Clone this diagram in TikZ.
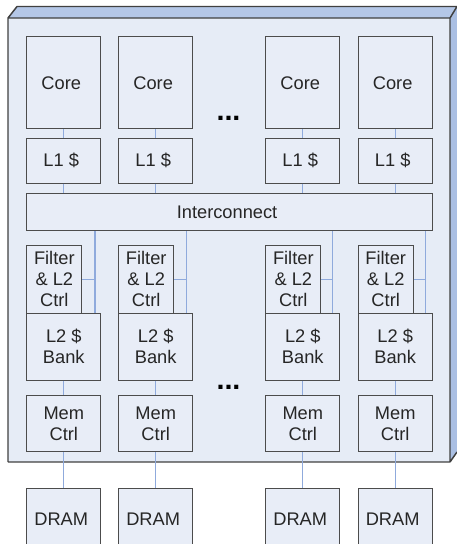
\documentclass[tikz,border=0pt]{standalone}
\usepackage{fontspec}
\setmainfont{Liberation Sans}
\definecolor{chipfront}{HTML}{E6ECF6}
\definecolor{chiptop}{HTML}{B4C7E7}
\definecolor{chipside}{HTML}{AABFE3}
\definecolor{blockfill}{HTML}{E8EDF7}
\definecolor{wireblue}{HTML}{8FAADC}
\usetikzlibrary{calc}
\tikzset{
	blocknode/.style={
			rectangle,
			draw=black!70,
			line width=0.75pt,
			fill=blockfill,
			text=black!85,
			align=center,
			inner sep=0pt,
			minimum width=55.5pt,
			font=\fontsize{13.7}{15.75}\selectfont
		},
	corenode/.style={
			blocknode,
			minimum height=69.2pt
		},
	cachenode/.style={
			blocknode,
			minimum height=33.5pt
		},
	filternode/.style={
			blocknode,
			minimum width=41.25pt,
			minimum height=51.2pt
		},
	banknode/.style={
			blocknode,
			minimum height=50pt
		},
	memnode/.style={
			blocknode,
			minimum height=41.8pt
		},
	dramnode/.style={
			blocknode,
			minimum height=46.3pt
		},
	dotsnode/.style={
			inner sep=0pt,
			font=\fontsize{21.5}{22}\selectfont\bfseries
		},
	wire/.style={
			wireblue,
			line width=0.9pt
		}
}

\begin{document}
\begin{tikzpicture}[x=0.75pt, y=-0.75pt]
\useasboundingbox (0,0) rectangle (457,544);
\clip (0,0) rectangle (457,544);

% the chip, drawn as a flat slab
\fill[chiptop] (8,18) -- (17,6.5) -- (457,6.5) -- (450,18) -- cycle;
\fill[chipside] (450,18) -- (457,6.5) -- (457,452) -- (450,462) -- cycle;
\fill[chipfront] (8,18) rectangle (450,462);
\draw[black!75, line width=1.1pt, line join=round]
  (8,462) -- (8,18) -- (17,6.5) -- (457,6.5)
  (8,18) -- (450,18) -- (457,6.5)
  (450,18) -- (450,462) -- (8,462)
  (450,462) -- (457,452);

% cores
\node[corenode] (core1) at (63.8,82.8)  { Core };
\node[corenode] (core2) at (155.7,82.8) { Core };
\node[corenode] (core3) at (302.8,82.8) { Core };
\node[corenode] (core4) at (395.2,82.8) { Core };
\node[dotsnode] (dots1) at (228.5,118) { ... };

% private L1 caches
\node[cachenode] (l11) at (63.8,160.7)  { L1 \$ };
\node[cachenode] (l12) at (155.7,160.7) { L1 \$ };
\node[cachenode] (l13) at (302.8,160.7) { L1 \$ };
\node[cachenode] (l14) at (395.2,160.7) { L1 \$ };

\node[blocknode, minimum width=304pt, minimum height=28pt] (ic) at (229.6,212) { Interconnect };

% filters and L2 banks
\node[filternode] (flt1) at (54.3,279.2)  { Filter\\\& L2\\Ctrl };
\node[filternode] (flt2) at (146.2,279.2) { Filter\\\& L2\\Ctrl };
\node[filternode] (flt3) at (293.3,279.2) { Filter\\\& L2\\Ctrl };
\node[filternode] (flt4) at (385.7,279.2) { Filter\\\& L2\\Ctrl };

\node[banknode] (l21) at (63.8,346.7)  { L2 \$\\Bank };
\node[banknode] (l22) at (155.7,346.7) { L2 \$\\Bank };
\node[banknode] (l23) at (302.8,346.7) { L2 \$\\Bank };
\node[banknode] (l24) at (395.2,346.7) { L2 \$\\Bank };
\node[dotsnode] (dots2) at (228.5,387) { ... };

% memory controllers
\node[memnode] (mc1) at (63.8,423.8)  { Mem\\Ctrl };
\node[memnode] (mc2) at (155.7,423.8) { Mem\\Ctrl };
\node[memnode] (mc3) at (302.8,423.8) { Mem\\Ctrl };
\node[memnode] (mc4) at (395.2,423.8) { Mem\\Ctrl };

% off-chip DRAM
\node[dramnode] (dram1) at (63.8,519.2)  { DRAM };
\node[dramnode] (dram2) at (155.7,519.2) { DRAM };
\node[dramnode] (dram3) at (302.8,519.2) { DRAM };
\node[dramnode] (dram4) at (395.2,519.2) { DRAM };

% bus taps next to each filter
\coordinate (tap1) at (95,279.2);
\coordinate (tap2) at (186.7,279.2);
\coordinate (tap3) at (332.5,279.2);
\coordinate (tap4) at (425.8,279.2);

\draw[wire] (core1) -- (l11);
\draw[wire] (core2) -- (l12);
\draw[wire] (core3) -- (l13);
\draw[wire] (core4) -- (l14);

\draw[wire] (l11) -- (l11 |- ic.north);
\draw[wire] (l12) -- (l12 |- ic.north);
\draw[wire] (l13) -- (l13 |- ic.north);
\draw[wire] (l14) -- (l14 |- ic.north);

\draw[wire] (tap1 |- ic.south) -- (tap1 |- l21.north);
\draw[wire] (tap2 |- ic.south) -- (tap2 |- l22.north);
\draw[wire] (tap3 |- ic.south) -- (tap3 |- l23.north);
\draw[wire] (tap4 |- ic.south) -- (tap4 |- l24.north);

\draw[wire] (flt1) -- (tap1);
\draw[wire] (flt2) -- (tap2);
\draw[wire] (flt3) -- (tap3);
\draw[wire] (flt4) -- (tap4);

\draw[wire] (l21) -- (mc1);
\draw[wire] (l22) -- (mc2);
\draw[wire] (l23) -- (mc3);
\draw[wire] (l24) -- (mc4);

\draw[wire] (mc1) -- (dram1);
\draw[wire] (mc2) -- (dram2);
\draw[wire] (mc3) -- (dram3);
\draw[wire] (mc4) -- (dram4);
\end{tikzpicture}
\end{document}
